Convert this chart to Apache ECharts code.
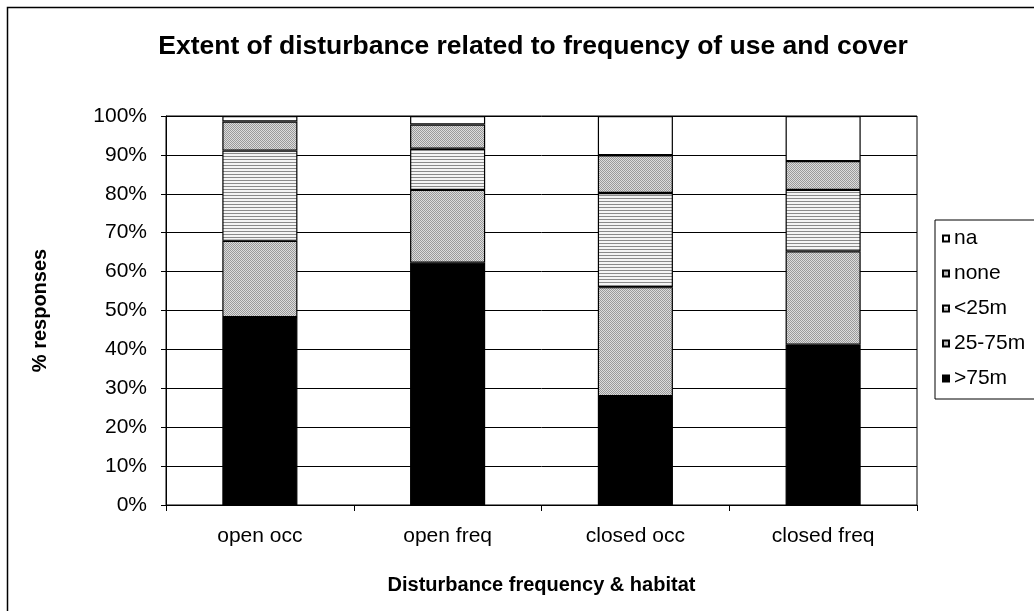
<!DOCTYPE html>
<html>
<head>
<meta charset="utf-8">
<script src="https://cdn.jsdelivr.net/npm/echarts@6/dist/echarts.min.js"></script>
<style>
  html, body { margin: 0; padding: 0; background: #fff; overflow: hidden; }
  #chart { width: 1034px; height: 611px; }
</style>
</head>
<body>
<div id="chart"></div>
<script>
// Categories along the x axis
const categories = ['open occ', 'open freq', 'closed occ', 'closed freq'];

// Share of responses (%) per disturbance extent, stacked bottom to top
const over75m = [48.3, 62.3, 28.0, 41.2];
const from25to75m = [19.6, 18.7, 28.0, 24.0];
const under25m = [23.2, 10.6, 24.2, 15.8];
const none = [7.5, 6.2, 9.7, 7.4];
const na = [1.4, 2.2, 10.1, 11.6];

// Legend order, top to bottom
const legendOrder = ['na', 'none', '<25m', '25-75m', '>75m'];

const FONT = '"Liberation Sans", Arial, sans-serif';

// Fine grey dot texture
function dotPattern() {
  const c = document.createElement('canvas');
  c.width = 2; c.height = 2;
  const g = c.getContext('2d');
  g.fillStyle = '#dcdcdc'; g.fillRect(0, 0, 2, 2);
  g.fillStyle = '#9a9a9a';
  g.fillRect(0, 0, 1, 1); g.fillRect(1, 1, 1, 1);
  return { image: c, repeat: 'repeat' };
}

// Thin horizontal line texture
function stripePattern() {
  const c = document.createElement('canvas');
  c.width = 4; c.height = 3;
  const g = c.getContext('2d');
  g.fillStyle = '#f4f4f4'; g.fillRect(0, 0, 4, 3);
  g.fillStyle = '#8a8a8a'; g.fillRect(0, 0, 4, 1);
  return { image: c, repeat: 'repeat' };
}

function seg(name, data, color) {
  return {
    name: name,
    type: 'bar',
    stack: 'total',
    barWidth: '40%',
    data: data,
    itemStyle: { color: color, borderColor: '#000', borderWidth: 1.2 },
    emphasis: { disabled: true }
  };
}

const chart = echarts.init(document.getElementById('chart'), null, { renderer: 'canvas' });

chart.setOption({
  backgroundColor: '#fff',
  animation: false,
  title: {
    text: 'Extent of disturbance related to frequency of use and cover',
    left: 528,
    top: 28,
    textAlign: 'center',
    textStyle: { fontFamily: FONT, fontSize: 26.5, fontWeight: 'bold', color: '#000' }
  },
  graphic: [{
    type: 'rect',
    shape: { x: 7.5, y: 7.5, width: 1200, height: 800 },
    style: { fill: null, stroke: '#000', lineWidth: 1.5 },
    silent: true,
    z: -1
  }],
  legend: {
    orient: 'vertical',
    left: 935,
    top: 220,
    data: legendOrder,
    itemWidth: 6,
    itemHeight: 6,
    itemGap: 14,
    padding: [8, 60, 10, 7],
    borderColor: '#000',
    borderWidth: 1,
    icon: 'rect',
    selectedMode: false,
    textStyle: { fontFamily: FONT, fontSize: 21, color: '#000' }
  },
  grid: {
    left: 166,
    right: 117,
    top: 116,
    bottom: 106,
    outerBoundsMode: 'none',
    show: true,
    borderColor: '#000',
    borderWidth: 1
  },
  xAxis: {
    type: 'category',
    data: categories,
    name: 'Disturbance frequency & habitat',
    nameLocation: 'middle',
    nameGap: 70,
    nameTextStyle: { fontFamily: FONT, fontSize: 20, fontWeight: 'bold', color: '#000' },
    axisLine: { show: true, lineStyle: { color: '#000', width: 1 } },
    axisTick: { show: true, length: 6, lineStyle: { color: '#000' } },
    axisLabel: { fontFamily: FONT, fontSize: 21, color: '#000', margin: 21 },
    splitLine: { show: false }
  },
  yAxis: {
    type: 'value',
    min: 0,
    max: 100,
    interval: 10,
    name: '% responses',
    nameLocation: 'middle',
    nameGap: 116,
    nameRotate: 90,
    nameTextStyle: { fontFamily: FONT, fontSize: 20, fontWeight: 'bold', color: '#000' },
    axisLine: { show: true, lineStyle: { color: '#000', width: 1 } },
    axisTick: { show: true, length: 5, lineStyle: { color: '#000' } },
    axisLabel: { formatter: '{value}%', fontFamily: FONT, fontSize: 21, color: '#000', margin: 19 },
    splitLine: { show: true, lineStyle: { color: '#000', width: 1 } }
  },
  series: [
    seg('>75m', over75m, '#000'),
    seg('25-75m', from25to75m, dotPattern()),
    seg('<25m', under25m, stripePattern()),
    seg('none', none, dotPattern()),
    seg('na', na, '#fff')
  ]
});
</script>
</body>
</html>
